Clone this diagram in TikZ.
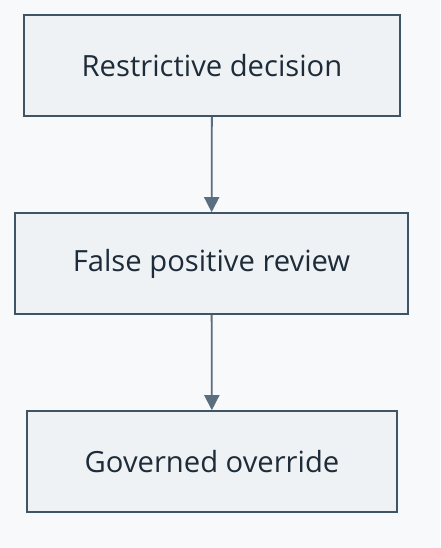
\documentclass[tikz,border=0pt]{standalone}
\usepackage{fontspec}
\setmainfont{Open Sans}
\usetikzlibrary{arrows.meta}
\definecolor{pagebg}{HTML}{F7F9FB}
\definecolor{boxfill}{HTML}{EEF2F5}
\definecolor{boxline}{HTML}{3F5566}
\definecolor{boxtext}{HTML}{1E2B38}
\definecolor{flowline}{HTML}{5B6E80}
\tikzset{
  stage/.style={rectangle, draw=boxline, fill=boxfill, line width=1.6pt,
    minimum height=101pt, inner sep=0pt, text=boxtext,
    font=\fontsize{29.2}{35}\selectfont},
  flow/.style={draw=flowline, line width=1.8pt, -{Triangle[width=15pt,length=15pt]}}
}
\begin{document}
\begin{tikzpicture}[x=1pt,y=1pt]
\fill[pagebg] (0,0) rectangle (440,-548);
\useasboundingbox (0,0) rectangle (440,-548);
\node[stage, minimum width=376pt] (restrict) at (212,-65.5){Restrictive decision};
\node[stage, minimum width=393pt] (review) at (211.5,-263.5){False positive review};
\node[stage, minimum width=370pt] (override) at (212,-461.5){Governed override};
\draw[flow](restrict) -- (review);
\draw[flow](review) -- (override);
\end{tikzpicture}
\end{document}
